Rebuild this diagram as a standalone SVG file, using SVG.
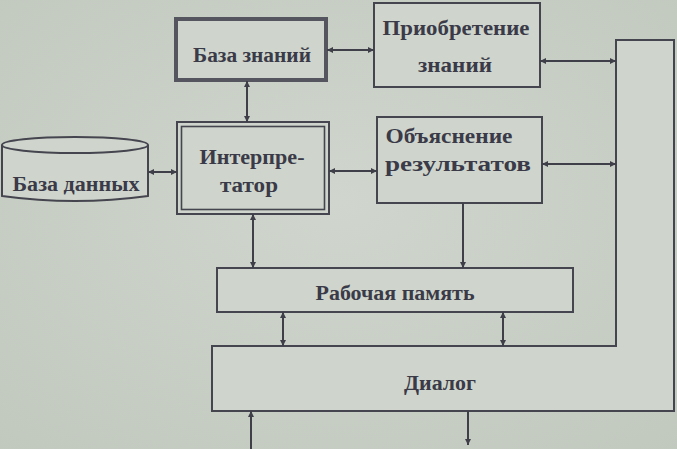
<svg xmlns="http://www.w3.org/2000/svg" width="677" height="449" viewBox="0 0 677 449">
  <defs>
    <marker id="ah" viewBox="0 0 10 10" refX="10" refY="5" markerWidth="7" markerHeight="6" markerUnits="userSpaceOnUse" orient="auto-start-reverse">
      <path d="M0,0 L10,5 L0,10 Z" fill="#3f3f4a"/>
    </marker>
    <radialGradient id="bg" cx="0.5" cy="0.45" r="0.75">
      <stop offset="0" stop-color="#d0d6cd"/>
      <stop offset="1" stop-color="#c1c8be"/>
    </radialGradient>
  </defs>
  <style>
    .box { fill: #cfd5cc; stroke: #45454f; stroke-width: 2; }
    .thick { fill: #cfd5cc; stroke: #55555f; stroke-width: 4; }
    .inner { fill: none; stroke: #45454f; stroke-width: 1.6; }
    .lbl { font-family: "Liberation Serif", "Times New Roman", serif; font-size: 20px; font-weight: bold; fill: #3a3a48; text-anchor: middle; }
    .con { stroke: #3f3f4a; stroke-width: 2; fill: none; }
    .bi { marker-start: url(#ah); marker-end: url(#ah); }
    .one { marker-end: url(#ah); }
  </style>
  <rect x="0" y="0" width="677" height="449" fill="url(#bg)"/>

  <g id="dialog">
    <path class="box" d="M212,346 L616,346 L616,40 L674,40 L674,411 L212,411 Z"/>
    <text class="lbl" x="440" y="390" textLength="72" lengthAdjust="spacingAndGlyphs">Диалог</text>
  </g>

  <g id="kb">
    <rect class="thick" x="176" y="19" width="150" height="61"/>
    <text class="lbl" x="252" y="62" textLength="118" lengthAdjust="spacingAndGlyphs">База знаний</text>
  </g>

  <g id="acq">
    <rect class="box" x="374" y="3" width="166" height="84"/>
    <text class="lbl" x="456" y="35" textLength="147" lengthAdjust="spacingAndGlyphs">Приобретение</text>
    <text class="lbl" x="455" y="72" textLength="74" lengthAdjust="spacingAndGlyphs">знаний</text>
  </g>

  <g id="interp">
    <rect class="box" x="177" y="122" width="152" height="92"/>
    <rect class="inner" x="181.5" y="126.5" width="143" height="83"/>
    <text class="lbl" x="252" y="164" textLength="105" lengthAdjust="spacingAndGlyphs">Интерпре-</text>
    <text class="lbl" x="249" y="192" textLength="58" lengthAdjust="spacingAndGlyphs">татор</text>
  </g>

  <g id="expl">
    <rect class="box" x="377" y="117" width="165" height="86"/>
    <text class="lbl" x="449" y="143" textLength="127" lengthAdjust="spacingAndGlyphs">Объяснение</text>
    <text class="lbl" x="458" y="171" textLength="146" lengthAdjust="spacingAndGlyphs">результатов</text>
  </g>

  <g id="db">
    <path class="box" d="M2,145 L2,196 Q75,206 148,196 L148,145"/>
    <ellipse class="box" cx="75" cy="145" rx="73" ry="8"/>
    <text class="lbl" x="76" y="191" textLength="127" lengthAdjust="spacingAndGlyphs">База данных</text>
  </g>

  <g id="wm">
    <rect class="box" x="217" y="268" width="356" height="44"/>
    <text class="lbl" x="395" y="300" textLength="159" lengthAdjust="spacingAndGlyphs">Рабочая память</text>
  </g>

  <g id="connectors">
    <line class="con bi" x1="327" y1="50" x2="374" y2="50"/>
    <line class="con bi" x1="247" y1="81" x2="247" y2="122"/>
    <line class="con bi" x1="148" y1="172" x2="177" y2="172"/>
    <line class="con bi" x1="329" y1="171" x2="377" y2="171"/>
    <line class="con bi" x1="540" y1="61" x2="616" y2="61"/>
    <line class="con bi" x1="542" y1="164" x2="616" y2="164"/>
    <line class="con bi" x1="253" y1="214" x2="253" y2="268"/>
    <line class="con one" x1="463" y1="203" x2="463" y2="268"/>
    <line class="con bi" x1="283" y1="312" x2="283" y2="346"/>
    <line class="con bi" x1="503" y1="312" x2="503" y2="346"/>
    <line class="con one" x1="251" y1="449" x2="251" y2="411"/>
    <line class="con one" x1="468" y1="411" x2="468" y2="445"/>
  </g>
</svg>
